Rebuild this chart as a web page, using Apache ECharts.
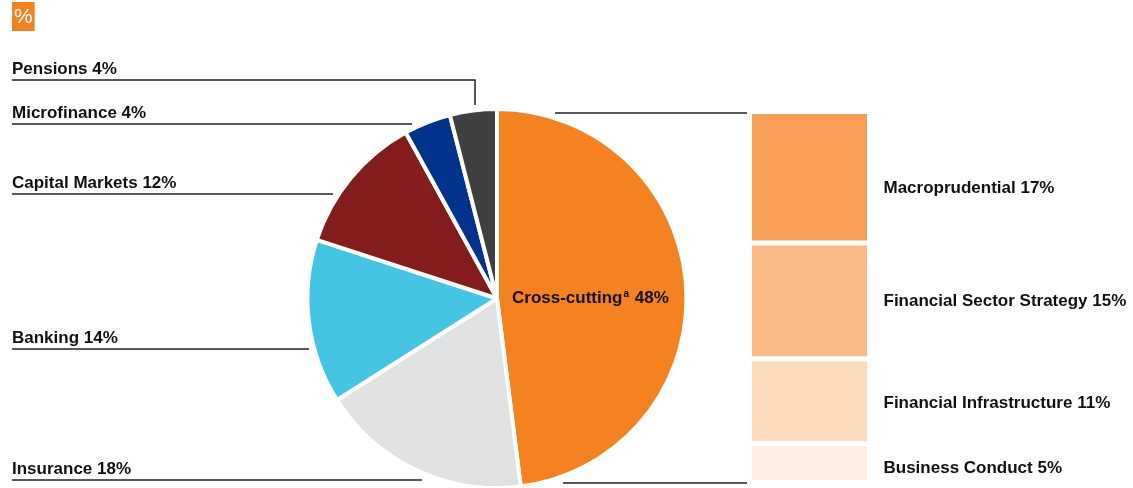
<!DOCTYPE html>
<html>
<head>
<meta charset="utf-8">
<script src="https://cdn.jsdelivr.net/npm/echarts@6/dist/echarts.min.js"></script>
<style>
html,body{margin:0;padding:0;background:#fff;}
#chart{width:1133px;height:488px;}
</style>
</head>
<body>
<div id="chart"></div>
<script>
// ---- data ----
const pieNames = ['Cross-cutting', 'Insurance', 'Banking', 'Capital Markets', 'Microfinance', 'Pensions'];
const pieValues = [48, 18, 14, 12, 4, 4];
const barNames = ['Business Conduct', 'Financial Infrastructure', 'Financial Sector Strategy', 'Macroprudential'];
const barValues = [5, 11, 15, 17];

// ---- layout / style ----
const FONT = '"Liberation Sans Narrow", "Arial Narrow", "Liberation Sans", Arial, sans-serif';
const FS = 17;
const pieColors = ['#f58220', '#e1e2e4', '#44c5e3', '#831c1a', '#00338d', '#3f3f41'];
const barColors = ['#feede0', '#fddcbe', '#fbb987', '#f79f55'];
const barLabelOffsets = [[0, 5], [0, 2], [0, 0], [0, 11]];
const PIE_C = [497, 298.5];
const PIE_R = 189.5;
const LABEL_X = 12;
const pieLabelPos = {
  'Insurance': {y: 480, ex: 422},
  'Banking': {y: 349, ex: 309},
  'Capital Markets': {y: 194, ex: 333},
  'Microfinance': {y: 124, ex: 412},
  'Pensions': {y: 80, ex: 475, corner: 105}
};
const GRID = {left: 749.5, top: 111.5, width: 120, height: 371};

const chart = echarts.init(document.getElementById('chart'), null, {renderer: 'canvas'});

const pieData = pieNames.map((n, i) => {
  const d = {name: n, value: pieValues[i], itemStyle: {color: pieColors[i]}};
  if (i === 0) {
    d.label = {
      position: 'inside',
      formatter: '{n|Cross-cutting}{s|a}{n| ' + pieValues[0] + '%}',
      rich: {
        n: {fontFamily: FONT, fontSize: FS, color: '#111', fontWeight: 'bold'},
        s: {fontFamily: FONT, fontSize: 10, color: '#111', fontWeight: 'bold', verticalAlign: 'top', padding: [0, 1, 8, 1]}
      }
    };
    d.labelLine = {show: false};
  }
  return d;
});

const option = {
  animation: false,
  backgroundColor: '#fff',
  title: {
    text: '%',
    left: 12, top: 2,
    padding: [4, 2, 3, 2],
    backgroundColor: '#f58220',
    textStyle: {
      color: '#fff', fontFamily: FONT, fontSize: 21, fontWeight: 'normal', lineHeight: 22
    }
  },
  grid: {left: GRID.left, top: GRID.top, width: GRID.width, height: GRID.height},
  xAxis: {type: 'category', data: ['x'], show: false},
  yAxis: {type: 'value', min: 0, max: 48, show: false},
  series: [
    {
      type: 'pie',
      center: PIE_C,
      radius: [0, PIE_R],
      startAngle: 90,
      clockwise: true,
      silent: true,
      itemStyle: {borderColor: '#fff', borderWidth: 4},
      label: {
        show: true,
        position: 'outside',
        fontFamily: FONT, fontSize: FS, color: '#111', fontWeight: 'bold',
        formatter: p => p.name + ' ' + p.value + '%'
      },
      labelLine: {show: true, length: 5, length2: 5, lineStyle: {color: '#222', width: 1.5}},
      labelLayout: function (p) {
        const name = pieNames[p.dataIndex];
        if (p.dataIndex === 0) {
          return {x: 512, y: PIE_C[1], align: 'left', verticalAlign: 'middle'};
        }
        const L = pieLabelPos[name];
        const pts = L.corner
          ? [[L.ex, L.corner], [L.ex, L.y], [LABEL_X, L.y]]
          : [[L.ex, L.y], [L.ex, L.y], [LABEL_X, L.y]];
        return {x: LABEL_X, y: L.y - 2, align: 'left', verticalAlign: 'bottom', labelLinePoints: pts};
      },
      data: pieData
    }
  ].concat(barNames.map((n, i) => ({
    type: 'bar',
    name: n,
    stack: 'cc',
    barWidth: '100%',
    silent: true,
    itemStyle: {color: barColors[i], borderColor: '#fff', borderWidth: 2.5},
    label: {
      show: true, position: 'right', distance: 14,
      fontFamily: FONT, fontSize: FS, color: '#111', fontWeight: 'bold',
      offset: barLabelOffsets[i],
      formatter: () => n + ' ' + barValues[i] + '%'
    },
    data: [barValues[i]]
  }))),
  graphic: [
    {type: 'line', silent: true, shape: {x1: 555, y1: 113, x2: 747, y2: 113}, style: {stroke: '#222', lineWidth: 1.5}},
    {type: 'line', silent: true, shape: {x1: 563, y1: 483, x2: 747, y2: 483}, style: {stroke: '#222', lineWidth: 1.5}}
  ]
};
chart.setOption(option);
</script>
</body>
</html>
